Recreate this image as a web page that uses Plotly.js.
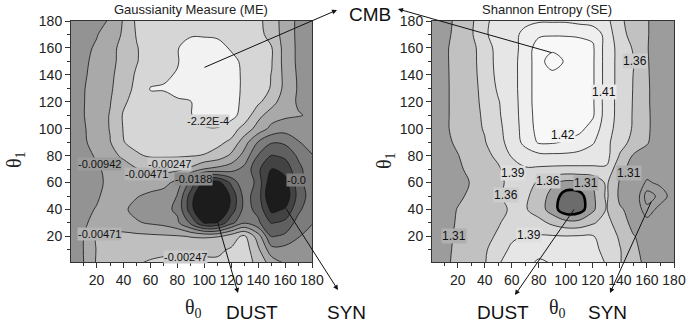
<!DOCTYPE html>
<html><head><meta charset="utf-8">
<script src="https://cdn.plot.ly/plotly-3.0.1.min.js"></script>
<style>html,body{margin:0;padding:0;background:#fff;}#chart{width:686px;height:327px;}</style>
</head><body><div id="chart"></div>
<script>
// angle grids (degrees)
const theta0 = [0,10,20,30,40,50,60,70,80,90,100,110,120,130,140,150,160,170,180];
const theta1 = [0,10,20,30,40,50,60,70,80,90,100,110,120,130,140,150,160,170,180];

// Gaussianity measure (ME); rows listed from theta1 = 180 (top) down to theta1 = 0
const meRows = [
[-0.0132,-0.0122,-0.0108,-0.00919,-0.00449,-0.00202,-0.00135,-0.00112,-0.00101,-0.000896,-0.000896,-0.00101,-0.00112,-0.00146,-0.00202,-0.00337,-0.00707,-0.0113,-0.0122],
[-0.0132,-0.0118,-0.00989,-0.00754,-0.00437,-0.00225,-0.00112,-0.000784,-0.000559,-0.000447,-0.000447,-0.000559,-0.000784,-0.00123,-0.00191,-0.00314,-0.00707,-0.0113,-0.0122],
[-0.0127,-0.0113,-0.00895,-0.00612,-0.00404,-0.00258,-0.00135,-0.000672,-0.000334,-0.000133,-0.000133,-0.000155,-0.000447,-0.00112,-0.0018,-0.00236,-0.00659,-0.0113,-0.0122],
[-0.0127,-0.0108,-0.00848,-0.00589,-0.00404,-0.00258,-0.00123,-0.000559,-0.000334,-0.000133,-0.000133,-0.000155,-0.000167,-0.000672,-0.0018,-0.00236,-0.00659,-0.0113,-0.0122],
[-0.0122,-0.0104,-0.00824,-0.00565,-0.0037,-0.00213,-0.00101,-0.000447,-0.000211,-0.000122,-0.000111,-0.000133,-0.000155,-0.000559,-0.00168,-0.00252,-0.00612,-0.0108,-0.0122],
[-0.0122,-0.00989,-0.00801,-0.00542,-0.00337,-0.00191,-0.000211,-0.000211,-0.000167,-0.000122,-0.000111,-0.000122,-0.000155,-0.000559,-0.0018,-0.00258,-0.00612,-0.0104,-0.0122],
[-0.0122,-0.00989,-0.00754,-0.00495,-0.00281,-0.00157,-0.000784,-0.000672,-0.000447,-0.000267,-0.000133,-0.000122,-0.000155,-0.000672,-0.00202,-0.00381,-0.00754,-0.0104,-0.0113],
[-0.0122,-0.00989,-0.00707,-0.0046,-0.00225,-0.00135,-0.00112,-0.00101,-0.000896,-0.000334,-0.000122,-0.000111,-0.000155,-0.00112,-0.00404,-0.00707,-0.00848,-0.00919,-0.0104],
[-0.0122,-0.0104,-0.00754,-0.0046,-0.00236,-0.00157,-0.00135,-0.00123,-0.00112,-0.00101,-0.000447,-0.000334,-0.00135,-0.00337,-0.00659,-0.0122,-0.0151,-0.0141,-0.0122],
[-0.0118,-0.0104,-0.00824,-0.00495,-0.00252,-0.00191,-0.0018,-0.0018,-0.00168,-0.00157,-0.00157,-0.00191,-0.00292,-0.00754,-0.0193,-0.0274,-0.0264,-0.0193,-0.0151],
[-0.0118,-0.0108,-0.00919,-0.00636,-0.00426,-0.00269,-0.00225,-0.00225,-0.00225,-0.00236,-0.00258,-0.00337,-0.00565,-0.0132,-0.0288,-0.0382,-0.0358,-0.0264,-0.0193],
[-0.0118,-0.0113,-0.00989,-0.00895,-0.00707,-0.00495,-0.00426,-0.00404,-0.00426,-0.00565,-0.00989,-0.0122,-0.0151,-0.0217,-0.0358,-0.0476,-0.0433,-0.0311,-0.0217],
[-0.0122,-0.0122,-0.0108,-0.00871,-0.00754,-0.00707,-0.0073,-0.00801,-0.0122,-0.0311,-0.0499,-0.0509,-0.0358,-0.0193,-0.0321,-0.0546,-0.0509,-0.0321,-0.0217],
[-0.0122,-0.0122,-0.0104,-0.00801,-0.00754,-0.00919,-0.0113,-0.0132,-0.0193,-0.0424,-0.0612,-0.0612,-0.0452,-0.0245,-0.033,-0.0584,-0.0546,-0.0339,-0.0236],
[-0.0122,-0.0113,-0.00919,-0.00754,-0.00871,-0.0122,-0.0141,-0.016,-0.0207,-0.0433,-0.0621,-0.0612,-0.0433,-0.0245,-0.0311,-0.0499,-0.0462,-0.0302,-0.0217],
[-0.0122,-0.0104,-0.00848,-0.00707,-0.00754,-0.00895,-0.0104,-0.0122,-0.0169,-0.0302,-0.0476,-0.0462,-0.0311,-0.0193,-0.0264,-0.0382,-0.0349,-0.0245,-0.0193],
[-0.0122,-0.00989,-0.0046,-0.00415,-0.00404,-0.00415,-0.00426,-0.00437,-0.00449,-0.00495,-0.00518,-0.00495,-0.00337,-0.00202,-0.00707,-0.0288,-0.0264,-0.0193,-0.0151],
[-0.0122,-0.00961,-0.0046,-0.00359,-0.00325,-0.00314,-0.00303,-0.00292,-0.00281,-0.00281,-0.00292,-0.00281,-0.00225,-0.00135,-0.00426,-0.0151,-0.0151,-0.0132,-0.0122],
[-0.0122,-0.00989,-0.00449,-0.00337,-0.00292,-0.00258,-0.00225,-0.00202,-0.00191,-0.00191,-0.00202,-0.00213,-0.0018,-0.00135,-0.00314,-0.00659,-0.00989,-0.0104,-0.0104]
];

// Shannon entropy (SE); rows from theta1 = 180 down to 0
const seRows = [
[1.27,1.295,1.32,1.35,1.386,1.395,1.40,1.405,1.408,1.408,1.408,1.405,1.40,1.396,1.366,1.338,1.313,1.29,1.275],
[1.27,1.297,1.323,1.353,1.387,1.396,1.403,1.413,1.418,1.419,1.419,1.418,1.418,1.402,1.37,1.343,1.313,1.29,1.275],
[1.275,1.30,1.33,1.347,1.373,1.398,1.404,1.413,1.425,1.426,1.425,1.425,1.421,1.401,1.38,1.355,1.312,1.29,1.275],
[1.275,1.30,1.33,1.347,1.372,1.397,1.404,1.414,1.425,1.432,1.427,1.425,1.421,1.401,1.38,1.361,1.313,1.29,1.275],
[1.275,1.30,1.328,1.347,1.37,1.396,1.404,1.414,1.425,1.426,1.425,1.425,1.421,1.401,1.38,1.359,1.314,1.29,1.275],
[1.275,1.30,1.327,1.346,1.368,1.393,1.404,1.414,1.425,1.425,1.425,1.424,1.421,1.401,1.38,1.358,1.315,1.29,1.275],
[1.275,1.30,1.327,1.346,1.366,1.388,1.403,1.414,1.425,1.425,1.424,1.424,1.421,1.40,1.38,1.357,1.315,1.29,1.275],
[1.275,1.30,1.327,1.345,1.364,1.386,1.402,1.414,1.424,1.424,1.424,1.423,1.421,1.40,1.38,1.356,1.316,1.29,1.275],
[1.275,1.30,1.327,1.345,1.362,1.383,1.40,1.414,1.423,1.423,1.423,1.422,1.416,1.398,1.378,1.355,1.316,1.29,1.275],
[1.275,1.298,1.318,1.34,1.357,1.38,1.398,1.413,1.421,1.421,1.419,1.416,1.411,1.395,1.372,1.345,1.313,1.29,1.275],
[1.272,1.295,1.308,1.33,1.35,1.365,1.392,1.40,1.405,1.406,1.406,1.404,1.40,1.397,1.355,1.305,1.298,1.288,1.275],
[1.27,1.29,1.303,1.32,1.34,1.355,1.373,1.387,1.385,1.383,1.382,1.383,1.385,1.386,1.318,1.298,1.292,1.29,1.29],
[1.268,1.285,1.298,1.312,1.335,1.352,1.366,1.37,1.355,1.32,1.295,1.30,1.315,1.365,1.305,1.296,1.283,1.288,1.29],
[1.268,1.285,1.302,1.318,1.338,1.355,1.37,1.365,1.34,1.29,1.235,1.24,1.30,1.365,1.30,1.297,1.27,1.278,1.292],
[1.27,1.29,1.312,1.328,1.342,1.35,1.363,1.363,1.335,1.285,1.225,1.235,1.30,1.362,1.315,1.296,1.278,1.29,1.295],
[1.272,1.292,1.315,1.332,1.345,1.357,1.368,1.375,1.37,1.35,1.33,1.33,1.355,1.372,1.33,1.298,1.29,1.292,1.295],
[1.275,1.295,1.318,1.335,1.35,1.363,1.386,1.391,1.392,1.392,1.391,1.392,1.391,1.382,1.352,1.312,1.296,1.293,1.292],
[1.276,1.298,1.32,1.338,1.352,1.38,1.393,1.398,1.402,1.401,1.398,1.396,1.393,1.385,1.362,1.318,1.298,1.293,1.292],
[1.276,1.30,1.322,1.34,1.356,1.388,1.398,1.404,1.412,1.409,1.404,1.399,1.395,1.389,1.362,1.322,1.302,1.294,1.292]
];

// contour levels
const meLevels = [-0.000222, -0.00247, -0.00471, -0.00942, -0.0188, -0.0283, -0.0377, -0.0471];
const seLevels = [1.26, 1.31, 1.36, 1.39, 1.41, 1.42, 1.428];
const seDustLevel = 1.26;
const seSynLevels = [1.275, 1.285];

// label texts
const meLabelText = ['-2.22E-4','-0.00247','-0.00471','-0.00942','-0.0188','-0.00471','-0.00247','-0.0'];
const seLabelText = ['1.36','1.41','1.42','1.39','1.36','1.31','1.31','1.36','1.39','1.31'];

// ---------- helpers ----------
function indexer(bps){
  const n = bps.length;
  return function(v){
    for(let i=0;i<n-1;i++){
      const a=bps[i], b=bps[i+1];
      if(v>=Math.min(a,b) && v<=Math.max(a,b)) return i+(v-a)/(b-a);
    }
    const dir = bps[1]>bps[0]?1:-1;
    if((v-bps[0])*dir<0) return (v-bps[0])/(bps[1]-bps[0]);
    return (n-1)+(v-bps[n-1])/(bps[n-1]-bps[n-2]);
  };
}
function stepped(colors){
  const n=colors.length, out=[];
  colors.forEach((c,k)=>{
    const lo = k===0?0:(2*k-1)/(2*(n-1));
    const hi = k===n-1?1:(2*k+1)/(2*(n-1));
    out.push([lo,c]); out.push([hi,c]);
  });
  return out;
}
const meIdx = indexer([0].concat(meLevels));
const seIdx = indexer([1.21].concat(seLevels));
const zME = meRows.slice().reverse();
const zSE = seRows.slice().reverse();
const zMEi = zME.map(r=>r.map(meIdx));
const zSEi = zSE.map(r=>r.map(seIdx));

// sub-window for the small SYN loops in the SE map
const synCols=[14,15,16,17,18], synRowIdx=[3,4,5,6,7];
const synX = synCols.map(c=>theta0[c]);
const synY = synRowIdx.map(r=>theta1[r]);
const synZ = synRowIdx.map(r=>synCols.map(c=>zSE[r][c]));

const meColors=['#f2f2f2','#d6d6d6','#bfbfbf','#a9a9a9','#939393','#7c7c7c','#606060','#434343','#1c1c1c'];
const seColors=['#6c6c6c','#9c9c9c','#c1c1c1','#d8d8d8','#e6e6e6','#efefef','#f8f8f8','#f8f8f8'];

const lineStyle={color:'#151515', width:0.8, smoothing:1};
const traces=[
  {type:'contour', x:theta0, y:theta1, z:zMEi, xaxis:'x', yaxis:'y', autocontour:false,
   contours:{start:1,end:meLevels.length,size:1,coloring:'fill',showlines:true},
   line:lineStyle, colorscale:stepped(meColors), showscale:false, hoverinfo:'skip'},
  {type:'contour', x:theta0, y:theta1, z:zSEi, xaxis:'x2', yaxis:'y2', autocontour:false,
   contours:{start:1,end:seLevels.length,size:1,coloring:'fill',showlines:true},
   line:lineStyle, colorscale:stepped(seColors), showscale:false, hoverinfo:'skip'},
  {type:'contour', x:theta0, y:theta1, z:zSE, xaxis:'x2', yaxis:'y2', autocontour:false,
   contours:{start:seDustLevel,end:seDustLevel,size:0.05,coloring:'none'},
   line:{color:'#000',width:2.6,smoothing:1}, showscale:false, hoverinfo:'skip'},
  {type:'contour', x:synX, y:synY, z:synZ, xaxis:'x2', yaxis:'y2', autocontour:false,
   contours:{start:seSynLevels[0],end:seSynLevels[1],size:seSynLevels[1]-seSynLevels[0],coloring:'none'},
   line:lineStyle, showscale:false, hoverinfo:'skip'}
];

const font='Arial, "Liberation Sans", sans-serif';
function axis(dom, anchor){
  return {domain:dom, anchor:anchor, range:[1,180], tickmode:'linear', tick0:0, dtick:20,
    ticks:'outside', ticklen:5, tickwidth:1, tickcolor:'#333',
    minor:{dtick:10, ticks:'outside', ticklen:3, tickwidth:1, tickcolor:'#333', showgrid:false},
    showline:true, mirror:true, linecolor:'#333', linewidth:1, showgrid:false, zeroline:false,
    tickfont:{family:font,size:14,color:'#222'}};
}
const W=686,H=327;
function px(x){return x/W;} function py(y){return 1-y/H;}

const ann=[];
function txt(x,y,text,f,extra){
  ann.push(Object.assign({xref:'paper',yref:'paper',x:px(x),y:py(y),text:text,showarrow:false,
    xanchor:'center',yanchor:'middle',font:f},extra||{}));
}
// panel titles
const hf={family:font,size:13,color:'#222'};
txt(191,10,'Gaussianity Measure (ME)',hf);
txt(547,10,'Shannon Entropy (SE)',hf);
// axis titles
const tf={family:'"Liberation Serif", "DejaVu Serif", serif',size:20,color:'#222'};
txt(193,308,'θ<sub>0</sub>',tf);
txt(557,308,'θ<sub>0</sub>',tf);
txt(15,160,'θ<sub>1</sub>',tf,{textangle:-90});
txt(385,160,'θ<sub>1</sub>',tf,{textangle:-90});
// component names
const bf={family:font,size:19,color:'#111'};
txt(370,14,'CMB',bf);
txt(252,312,'DUST',bf);
txt(346,312,'SYN',bf);
txt(503,312,'DUST',bf);
txt(607,312,'SYN',bf);
// arrows: [headX, headY, tailX, tailY] in pixels
const arrows=[[337,10,203,68],[398,9,553,53],[238,293,217,220],[338,290,285,207],[515,295,575,208],[610,293,652,200]];
arrows.forEach(a=>ann.push({xref:'paper',yref:'paper',x:px(a[0]),y:py(a[1]),ax:a[2]-a[0],ay:a[3]-a[1],
  text:'',showarrow:true,arrowhead:2,arrowsize:1,arrowwidth:1,arrowcolor:'#111',standoff:0,startstandoff:0}));
// contour labels (ME)
const mePos=[[103,106,'#d6d6d6'],[74,74,'#cbcbcb'],[57,66,'#b4b4b4'],[22,74,'#9c9c9c'],[92,63,'#8a8a8a'],[22,22,'#b4b4b4'],[86,5,'#cbcbcb'],[161,62,'#7c7c7c']];
mePos.forEach((p,i)=>ann.push({xref:'x',yref:'y',x:p[0],y:p[1],text:meLabelText[i],showarrow:false,
  xanchor:i===7?'left':'center',yanchor:'middle',bgcolor:p[2],borderpad:0,font:{family:font,size:11,color:'#111'}}));
const sePos=[[151,150,'#cdcdcd'],[128,127,'#eaeaea'],[98,95,'#f3f3f3'],[61,67,'#dfdfdf'],[87,61,'#cdcdcd'],[115,60,'#afafaf'],[147,67,'#afafaf'],[56,51,'#cdcdcd'],[73,21,'#dfdfdf'],[17,20,'#afafaf']];
sePos.forEach((p,i)=>ann.push({xref:'x2',yref:'y2',x:p[0],y:p[1],text:seLabelText[i],showarrow:false,
  xanchor:'center',yanchor:'middle',bgcolor:p[2],borderpad:0,font:{family:font,size:12,color:'#111'}}));

const layout={width:W,height:H,margin:{l:0,r:0,t:0,b:0},paper_bgcolor:'#fff',plot_bgcolor:'#fff',showlegend:false,
  font:{family:font,size:14,color:'#222'},
  xaxis:axis([71/W,312/W],'y'), yaxis:axis([1-262/H,1-21/H],'x'),
  xaxis2:axis([432/W,674/W],'y2'), yaxis2:axis([1-262/H,1-21/H],'x2'),
  annotations:ann};
Plotly.newPlot('chart',traces,layout,{staticPlot:true,displayModeBar:false});
</script></body></html>
